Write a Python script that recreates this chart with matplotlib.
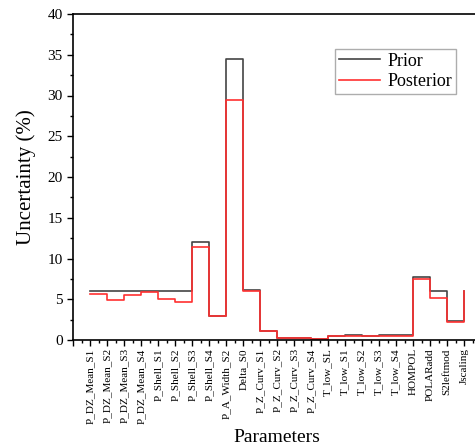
import matplotlib; matplotlib.use('Agg')
import matplotlib.pyplot as plt
from matplotlib.ticker import MultipleLocator

plt.rcParams['font.family'] = ['Liberation Serif', 'DejaVu Serif']

params = ['P_DZ_Mean_S1', 'P_DZ_Mean_S2', 'P_DZ_Mean_S3', 'P_DZ_Mean_S4',
          'P_Shell_S1', 'P_Shell_S2', 'P_Shell_S3', 'P_Shell_S4',
          'P_A_Width_S2', 'Delta_S0', 'P_Z_Curv_S1', 'P_Z_Curv_S2',
          'P_Z_Curv_S3', 'P_Z_Curv_S4', 'T_low_SL', 'T_low_S1', 'T_low_S2',
          'T_low_S3', 'T_low_S4', 'HOMPOL', 'POLARadd', 'S2leftmod', 'Jscaling']
prior = [6.0, 6.0, 6.0, 6.0, 6.0, 6.0, 12.0, 3.0, 34.5, 6.1, 1.1, 0.3,
         0.3, 0.15, 0.5, 0.6, 0.55, 0.6, 0.6, 7.7, 6.0, 2.3, 6.0]
posterior = [5.6, 4.9, 5.5, 5.9, 5.0, 4.7, 11.4, 2.9, 29.4, 6.0, 1.1, 0.25,
             0.25, 0.1, 0.5, 0.55, 0.5, 0.55, 0.55, 7.5, 5.2, 2.2, 6.0]

x = list(range(len(params)))

fig = plt.figure(figsize=(4.75, 4.45), dpi=100)
ax = fig.add_axes([73/475, 1-340/445, 408/475, 326/445])

ax.step(x, prior, where='post', color='#444444', lw=1.2, label='Prior')
ax.step(x, posterior, where='post', color='#ff3030', lw=1.2, label='Posterior')

ax.set_xlim(-1, 23)
ax.set_ylim(0, 40)
ax.set_xticks(range(-1, 24))
ax.set_xticklabels([''] + params + [''], rotation=90, fontsize=8)
ax.xaxis.set_minor_locator(MultipleLocator(0.5))
ax.yaxis.set_major_locator(MultipleLocator(5))
ax.yaxis.set_minor_locator(MultipleLocator(2.5))
ax.tick_params(axis='both', which='major', direction='out', length=4, width=1)
ax.tick_params(axis='both', which='minor', direction='out', length=2, width=1)
ax.tick_params(axis='y', labelsize=11)
ax.tick_params(axis='x', pad=2)
for s in ['left', 'bottom', 'top']:
    ax.spines[s].set_linewidth(1.2)
ax.spines['right'].set_visible(False)

ax.set_ylabel('Uncertainty (%)', fontsize=15, labelpad=8)
ax.set_xlabel('Parameters', fontsize=14, labelpad=4)

leg = ax.legend(loc='upper left', bbox_to_anchor=(335/475, 1-49/445),
                bbox_transform=fig.transFigure, fontsize=13, frameon=True,
                fancybox=False, edgecolor='#999999', borderaxespad=0,
                handlelength=2.3, handletextpad=0.4, borderpad=0.2,
                labelspacing=0.2)
leg.get_frame().set_linewidth(1.0)

fig.savefig('out.png', dpi=100)
